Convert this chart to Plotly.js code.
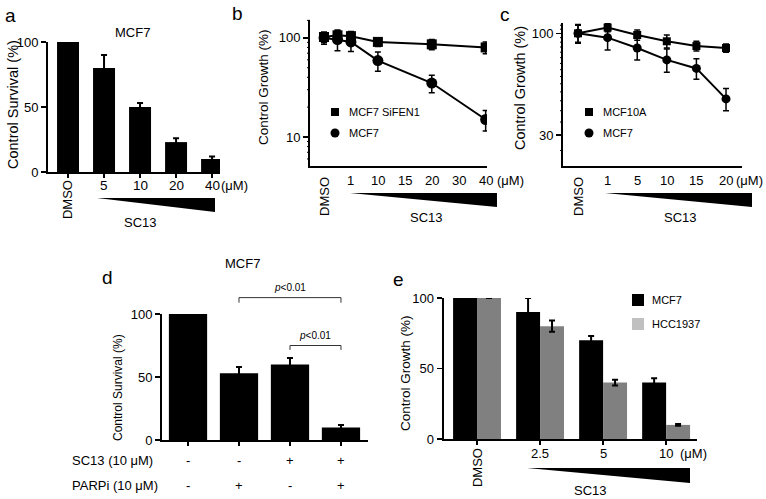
<!DOCTYPE html>
<html>
<head>
<meta charset="utf-8">
<script src="https://cdn.plot.ly/plotly-3.0.1.min.js"></script>
<style>html, body { margin: 0; padding: 0; background: #fff; }</style>
</head>
<body>
<div id="fig" style="width:766px;height:499px"></div>
<script>
const W = 766, H = 499;
const FONT = 'Liberation Sans, Arial, sans-serif';
const px = x => x / W;
const py = y => 1 - y / H;

// panel a - MCF7 survival
const aDoses = ['DMSO', '5', '10', '20', '40'];
const aSurvival = [100, 80, 50, 23, 10];
const aErr = [0, 10, 3, 3, 2];

// panel b - MCF7 SiFEN1 vs MCF7 (log)
const bTickText = ['DMSO', '1', '10', '15', '20', '30', '40'];
const bX = [0, 0.5, 1, 2, 4, 6];
const bSiFEN1 = [102, 106, 104, 91, 86, 80];
const bSiFEN1Err = [12, 14, 12, 9, 10, 11];
const bMCF7 = [100, 96, 91, 59, 35, 15];
const bMCF7Err = [14, 22, 18, 13, 7, 3.5];

// panel c - MCF10A vs MCF7 (log)
const cDoses = ['DMSO', '1', '5', '10', '15', '20'];
const cMCF10A = [100, 107, 98, 91, 86, 84];
const cMCF10AErr = [11, 5, 6, 7, 5, 4];
const cMCF7 = [100, 95, 84, 73, 66, 46];
const cMCF7Err = [10, 13, 11, 10, 8, 6];

// log axis minor ticks
const bMinor = [6, 7, 8, 9, 20, 30, 40, 50, 60, 70, 80, 90, 150];
const cMinor = [25, 35, 40, 45, 50, 55, 60, 65, 70, 75, 80, 85, 90, 95, 105, 110];

// panel d - SC13 + PARPi
const dSurvival = [100, 53, 60, 10];
const dErr = [0, 5, 5, 2];
const dSC13 = ['-', '-', '+', '+'];
const dPARPi = ['-', '+', '-', '+'];
const dBrackets = [
  {from: 1, to: 3, y: 113, leg: 4, label: '<i>p</i><0.01'},
  {from: 2, to: 3, y: 75, leg: 3.5, label: '<i>p</i><0.01'}
];

// panel e - MCF7 vs HCC1937
const eDoses = ['DMSO', '2.5', '5', '10'];
const eMCF7 = [100, 90, 70, 40];
const eMCF7Err = [0, 10, 3, 3];
const eHCC1937 = [100, 80, 40, 10];
const eHCC1937Err = [0, 4, 2, 0.6];

const idx = arr => arr.map((_, i) => i);

function errs(arr, thick, w) {
  return {type: 'data', array: arr, visible: true, color: '#000', thickness: thick || 2, width: w || 3};
}

function axis(extra) {
  return Object.assign({
    showline: true, linecolor: '#000', linewidth: 2,
    showgrid: false, zeroline: false, fixedrange: true,
    ticks: '', tickcolor: '#000', tickwidth: 1.5, ticklen: 5,
    tickfont: {family: FONT, size: 13, color: '#000'}
  }, extra);
}

const ax = {
  x:  {domain: [px(48), px(220)], range: [-0.556, 4.22]},
  y:  {domain: [py(172), py(42)], range: [0, 100]},
  x2: {domain: [px(310), px(487)], range: [-0.52, 6.05]},
  y2: {domain: [py(166), py(20)], range: [0.707, 2.18]},
  x3: {domain: [px(563), px(742)], range: [-0.507, 5.54]},
  y3: {domain: [py(166), py(23)], range: [1.318, 2.053]},
  x4: {domain: [px(162), px(368)], range: [-0.51, 3.53]},
  y4: {domain: [py(440), py(314)], range: [0, 100]},
  x5: {domain: [px(444), px(697)], range: [-0.524, 3.49]},
  y5: {domain: [py(439), py(298)], range: [0, 100]}
};
const toPaper = (a, v) => a.domain[0] + (v - a.range[0]) / (a.range[1] - a.range[0]) * (a.domain[1] - a.domain[0]);

const traces = [
  {type: 'bar', x: idx(aDoses), y: aSurvival, width: 0.61, marker: {color: '#000'},
   error_y: errs(aErr, 2, 3), xaxis: 'x', yaxis: 'y'},

  {type: 'scatter', mode: 'lines+markers', x: bX, y: bMCF7,
   line: {color: '#000', width: 2}, marker: {symbol: 'circle', size: 11, color: '#000'},
   error_y: errs(bMCF7Err, 1.5, 3), xaxis: 'x2', yaxis: 'y2'},
  {type: 'scatter', mode: 'lines+markers', x: bX, y: bSiFEN1,
   line: {color: '#000', width: 2}, marker: {symbol: 'square', size: 10, color: '#000'},
   error_y: errs(bSiFEN1Err, 1.5, 3), xaxis: 'x2', yaxis: 'y2'},

  {type: 'scatter', mode: 'lines+markers', x: idx(cDoses), y: cMCF7,
   line: {color: '#000', width: 2}, marker: {symbol: 'circle', size: 9, color: '#000'},
   error_y: errs(cMCF7Err, 1.5, 3), xaxis: 'x3', yaxis: 'y3'},
  {type: 'scatter', mode: 'lines+markers', x: idx(cDoses), y: cMCF10A,
   line: {color: '#000', width: 2}, marker: {symbol: 'square', size: 8, color: '#000'},
   error_y: errs(cMCF10AErr, 1.5, 3), xaxis: 'x3', yaxis: 'y3'},

  {type: 'bar', x: idx(dSurvival), y: dSurvival, width: 0.75, marker: {color: '#000'},
   error_y: errs(dErr, 2, 3), xaxis: 'x4', yaxis: 'y4'},

  {type: 'bar', x: idx(eDoses), y: eMCF7, width: 0.38, offset: -0.38, marker: {color: '#000'},
   error_y: errs(eMCF7Err, 2, 3), xaxis: 'x5', yaxis: 'y5'},
  {type: 'bar', x: idx(eDoses), y: eHCC1937, width: 0.38, offset: 0, marker: {color: '#808080'},
   error_y: errs(eHCC1937Err, 2, 3), xaxis: 'x5', yaxis: 'y5'}
];

const annotations = [];
const shapes = [];
function txt(text, x, y, o) {
  annotations.push(Object.assign({
    text: text, x: x, y: y, xref: 'paper', yref: 'paper', showarrow: false,
    xanchor: 'center', yanchor: 'middle',
    font: {family: FONT, size: 13, color: '#000'}
  }, o || {}));
}
function wedge(x0, x1, yt, yb) {
  shapes.push({type: 'path', xref: 'paper', yref: 'paper', line: {width: 0}, fillcolor: '#000',
    path: `M ${px(x0)},${py(yt)} L ${px(x1)},${py(yt)} L ${px(x1)},${py(yb)} Z`});
}
function doseLabels(labels, pos, xref, yNum, yDmso, size) {
  labels.forEach((t, i) => {
    if (t === 'DMSO') txt(t, pos[i], py(yDmso), {xref: xref, textangle: -90, font: {family: FONT, size: 13, color: '#000'}});
    else txt(t, pos[i], py(yNum), {xref: xref, font: {family: FONT, size: size, color: '#000'}});
  });
}

// panel letters
txt('a', px(10), py(15), {font: {family: FONT, size: 19, color: '#000'}});
txt('b', px(237), py(13), {font: {family: FONT, size: 19, color: '#000'}});
txt('c', px(505), py(14), {font: {family: FONT, size: 19, color: '#000'}});
txt('d', px(107), py(277), {font: {family: FONT, size: 19, color: '#000'}});
txt('e', px(398), py(279), {font: {family: FONT, size: 19, color: '#000'}});

// y titles
txt('Control Survival (%)', px(13), py(105), {textangle: -90, font: {family: FONT, size: 14.5, color: '#000'}});
txt('Control Growth (%)', px(263), py(87), {textangle: -90, font: {family: FONT, size: 13.5, color: '#000'}});
txt('Control Growth (%)', px(520), py(88), {textangle: -90, font: {family: FONT, size: 14.5, color: '#000'}});
txt('Control Survival (%)', px(118), py(388), {textangle: -90, font: {family: FONT, size: 12, color: '#000'}});
txt('Control Growth (%)', px(405), py(373), {textangle: -90, font: {family: FONT, size: 13.5, color: '#000'}});

// titles
txt('MCF7', px(132), py(33));
txt('MCF7', px(243), py(263));

// panel a x labels
doseLabels(aDoses, idx(aDoses), 'x', 185, 200, 13.5);
txt('(μM)', px(235), py(185), {font: {family: FONT, size: 13, color: '#000'}});
wedge(97, 215, 198, 212);
txt('SC13', px(140), py(222));

// panel b x labels
doseLabels(bTickText, idx(bTickText), 'x2', 180, 197, 13);
txt('(μM)', px(510), py(180));
wedge(350, 497, 193, 207);
txt('SC13', px(427), py(217));

// panel c x labels
doseLabels(cDoses, idx(cDoses), 'x3', 180, 197, 13);
txt('(μM)', px(749), py(180));
wedge(605, 752, 193, 207);
txt('SC13', px(680), py(217));

// panel e x labels
doseLabels(eDoses, idx(eDoses), 'x5', 453, 468, 13);
txt('(μM)', px(693), py(453));
wedge(527, 690, 468, 483);
txt('SC13', px(590), py(490));

// legends b, c
function markerKey(cx, cy, sym, s, label) {
  shapes.push({type: sym === 'square' ? 'rect' : 'circle', xref: 'paper', yref: 'paper',
    x0: px(cx - s / 2), x1: px(cx + s / 2), y0: py(cy + s / 2), y1: py(cy - s / 2),
    fillcolor: '#000', line: {width: 0}});
  txt(label, px(cx + 12), py(cy), {xanchor: 'left', font: {family: FONT, size: 11, color: '#000'}});
}
markerKey(335, 112, 'square', 8, 'MCF7 SiFEN1');
markerKey(335, 133, 'circle', 9, 'MCF7');
markerKey(589, 112, 'square', 8, 'MCF10A');
markerKey(589, 133, 'circle', 9, 'MCF7');

// legend e
function swatch(x0, y0, color, label) {
  shapes.push({type: 'rect', xref: 'paper', yref: 'paper', x0: px(x0), x1: px(x0 + 12), y0: py(y0 + 12), y1: py(y0),
    fillcolor: color, line: {width: 0}});
  txt(label, px(x0 + 18), py(y0 + 6), {xanchor: 'left', font: {family: FONT, size: 11, color: '#000'}});
}
swatch(632, 294, '#000', 'MCF7');
swatch(632, 318, '#c0c0c0', 'HCC1937');

// panel d table
txt('SC13 (10 μM)', px(70), py(460), {xanchor: 'left'});
txt('PARPi (10 μM)', px(70), py(485), {xanchor: 'left'});
dSC13.forEach((s, i) => txt(s, i, py(460), {xref: 'x4'}));
dPARPi.forEach((s, i) => txt(s, i, py(485), {xref: 'x4'}));

// significance brackets
dBrackets.forEach(b => {
  const xa = toPaper(ax.x4, b.from), xb = toPaper(ax.x4, b.to);
  const yt = toPaper(ax.y4, b.y), yl = toPaper(ax.y4, b.y - b.leg);
  shapes.push({type: 'path', xref: 'paper', yref: 'paper', line: {color: '#333', width: 1},
    path: `M ${xa},${yl} L ${xa},${yt} L ${xb},${yt} L ${xb},${yl}`});
  txt(b.label, (xa + xb) / 2, toPaper(ax.y4, b.y + 8), {font: {family: FONT, size: 10, color: '#000'}});
});

// small ticks on the log axes
function minorTicks(xa, ya, vals) {
  const x1 = xa.domain[0], x0 = x1 - 3 / W;
  vals.forEach(v => {
    const y = toPaper(ya, Math.log10(v));
    shapes.push({type: 'line', xref: 'paper', yref: 'paper', x0: x0, x1: x1, y0: y, y1: y,
      line: {color: '#000', width: 1}});
  });
}
minorTicks(ax.x2, ax.y2, bMinor);
minorTicks(ax.x3, ax.y3, cMinor);

const layout = {
  width: W, height: H,
  margin: {l: 0, r: 0, t: 0, b: 0},
  paper_bgcolor: '#fff', plot_bgcolor: 'rgba(0,0,0,0)',
  showlegend: false, barmode: 'overlay',
  xaxis: axis(Object.assign({}, ax.x, {anchor: 'y', ticks: 'outside', tickvals: idx(aDoses), ticklen: 4, showticklabels: false})),
  yaxis: axis(Object.assign({}, ax.y, {anchor: 'x', ticks: 'outside', tickvals: [0, 50, 100]})),
  xaxis2: axis(Object.assign({}, ax.x2, {anchor: 'y2', showticklabels: false})),
  yaxis2: axis(Object.assign({}, ax.y2, {anchor: 'x2', type: 'log', ticks: 'outside', tickvals: [10, 100]})),
  xaxis3: axis(Object.assign({}, ax.x3, {anchor: 'y3', showticklabels: false})),
  yaxis3: axis(Object.assign({}, ax.y3, {anchor: 'x3', type: 'log', ticks: 'outside', tickvals: [30, 100]})),
  xaxis4: axis(Object.assign({}, ax.x4, {anchor: 'y4', ticks: 'outside', tickvals: idx(dSurvival), ticklen: 4, showticklabels: false})),
  yaxis4: axis(Object.assign({}, ax.y4, {anchor: 'x4', ticks: 'outside', tickvals: [0, 50, 100]})),
  xaxis5: axis(Object.assign({}, ax.x5, {anchor: 'y5', ticks: 'outside', tickvals: idx(eDoses), ticklen: 4, showticklabels: false})),
  yaxis5: axis(Object.assign({}, ax.y5, {anchor: 'x5', ticks: 'outside', tickvals: [0, 50, 100], linewidth: 2.5})),
  annotations: annotations,
  shapes: shapes
};

Plotly.newPlot('fig', traces, layout, {staticPlot: true, displayModeBar: false});
</script>
</body>
</html>
